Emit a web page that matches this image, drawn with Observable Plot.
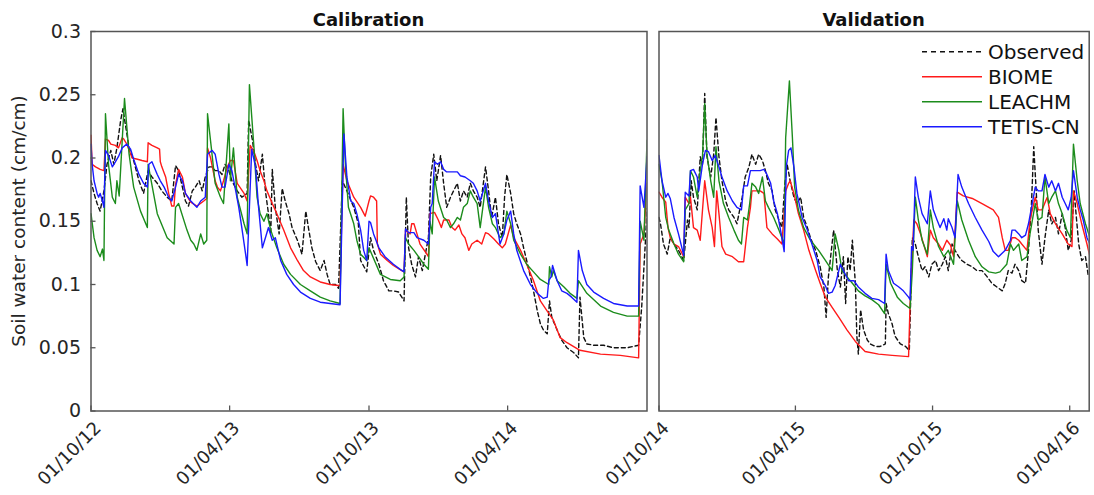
<!DOCTYPE html>
<html><head><meta charset="utf-8">
<script src="https://cdn.jsdelivr.net/npm/d3@7"></script>
<script src="https://cdn.jsdelivr.net/npm/@observablehq/plot@0.6"></script>
<style>
body{margin:0;background:#fff;}
#wrap{position:relative;width:1094px;height:495px;overflow:hidden;background:#fff;}
#wrap svg{position:absolute;top:0;overflow:visible;background:transparent;}
</style></head>
<body><div id="wrap"></div>
<script>
// ---- data: [days since 01/10/2012, soil water content (cm/cm)] ----
const seriesNames = ["Observed", "BIOME", "LEACHM", "TETIS-CN"];
const seriesColors = ["#111111", "#ff1a1a", "#1c8c1c", "#1a1aff"];
const panelTitles = ["Calibration", "Validation"];
const yLabel = "Soil water content (cm/cm)";
const yTicks = [0, 0.05, 0.1, 0.15, 0.2, 0.25, 0.3];
const calTicks = ["2012-10-01", "2013-04-01", "2013-10-01", "2014-04-01"];
const valTicks = ["2014-10-01", "2015-04-01", "2015-10-01", "2016-04-01"];
const calDomain = ["2012-10-01", "2014-10-01"];
const valDomain = ["2014-10-01", "2016-04-27"];

const obsCal = [[0,.182],[4,.172],[8,.164],[12,.158],[17,.174],[21,.195],[26,.206],[30,.195],[34,.208],[39,.230],[42,.239],[45,.227],[50,.208],[56,.198],[63,.182],[69,.172],[75,.190],[80,.185],[87,.180],[93,.174],[100,.169],[106,.166],[111,.194],[115,.190],[120,.177],[124,.166],[128,.162],[133,.174],[137,.177],[142,.182],[146,.174],[150,.185],[155,.193],[159,.193],[163,.190],[168,.190],[172,.187],[176,.195],[181,.190],[185,.182],[192,.174],[198,.169],[205,.172],[207,.230],[212,.214],[216,.195],[220,.182],[225,.203],[229,.174],[233,.156],[236,.140],[238,.191],[242,.161],[247,.140],[251,.176],[255,.166],[260,.156],[264,.145],[271,.135],[277,.124],[282,.158],[286,.143],[290,.129],[295,.118],[301,.111],[306,.119],[310,.108],[314,.100],[321,.100],[325,.097],[330,.182],[336,.174],[345,.161],[351,.148],[354,.119],[362,.110],[367,.137],[371,.127],[378,.116],[384,.103],[391,.095],[397,.095],[404,.094],[411,.087],[414,.169],[417,.129],[421,.116],[426,.106],[430,.122],[435,.111],[439,.124],[443,.137],[446,.185],[450,.203],[454,.182],[459,.202],[463,.180],[467,.161],[472,.169],[476,.174],[481,.180],[485,.166],[489,.174],[494,.169],[498,.180],[502,.174],[507,.169],[511,.161],[518,.193],[522,.174],[526,.153],[531,.169],[535,.148],[540,.137],[543,.169],[546,.187],[551,.172],[555,.156],[559,.148],[564,.140],[568,.129],[572,.119],[577,.106],[581,.095],[586,.079],[590,.069],[594,.064],[599,.061],[602,.087],[605,.074],[612,.064],[618,.056],[625,.050],[634,.046],[640,.042],[642,.090],[647,.058],[651,.053],[660,.052],[673,.052],[686,.050],[704,.050],[719,.052],[723,.082],[728,.135],[730,.160]];
const biomeCal = [[0,.218],[1.5,.195],[6,.193],[12,.191],[17,.190],[19,.215],[23,.214],[26,.211],[32,.210],[36,.208],[41,.216],[43,.215],[47,.211],[54,.200],[61,.199],[67,.198],[74,.197],[75,.212],[80,.210],[87,.208],[90,.207],[91,.197],[93,.193],[98,.185],[102,.172],[106,.162],[109,.162],[111,.179],[115,.191],[120,.185],[124,.172],[131,.165],[139,.162],[148,.166],[152,.168],[153,.208],[157,.200],[163,.182],[166,.177],[170,.174],[174,.182],[179,.193],[183,.198],[187,.198],[192,.180],[201,.172],[205,.166],[209,.210],[214,.205],[218,.198],[222,.190],[227,.182],[231,.174],[238,.164],[244,.156],[253,.143],[262,.129],[271,.119],[279,.111],[288,.106],[301,.102],[314,.100],[327,.099],[331,.195],[336,.182],[345,.169],[354,.161],[360,.154],[365,.166],[367,.170],[371,.169],[375,.166],[376,.132],[380,.124],[389,.119],[397,.115],[408,.111],[411,.110],[413,.143],[419,.140],[421,.148],[424,.148],[428,.140],[432,.132],[441,.124],[443,.122],[445,.156],[451,.157],[456,.151],[460,.145],[463,.151],[470,.151],[474,.145],[478,.143],[483,.147],[487,.140],[491,.137],[496,.127],[500,.132],[507,.135],[513,.132],[518,.141],[522,.140],[529,.136],[535,.132],[540,.129],[544,.132],[551,.147],[555,.137],[564,.127],[572,.116],[581,.103],[590,.087],[599,.079],[607,.072],[616,.058],[625,.054],[642,.048],[669,.045],[695,.044],[719,.042],[721,.132],[726,.140],[730,.180]];
const leachmCal = [[0,.156],[4,.137],[8,.127],[12,.122],[15,.128],[17,.119],[19,.235],[23,.195],[28,.169],[32,.164],[34,.182],[37,.170],[44,.247],[50,.203],[56,.177],[65,.158],[74,.145],[75,.195],[87,.156],[100,.137],[109,.132],[111,.161],[115,.164],[126,.143],[131,.135],[135,.132],[139,.127],[144,.140],[148,.132],[152,.135],[153,.235],[158,.208],[163,.180],[170,.169],[174,.164],[181,.227],[183,.182],[187,.208],[192,.169],[201,.148],[205,.140],[208,.258],[214,.208],[218,.169],[222,.156],[227,.150],[231,.156],[236,.143],[244,.129],[253,.116],[262,.108],[275,.100],[288,.095],[301,.090],[314,.087],[327,.085],[331,.239],[334,.195],[338,.161],[345,.148],[349,.135],[354,.124],[362,.119],[365,.129],[380,.108],[393,.104],[406,.103],[411,.106],[413,.137],[417,.132],[424,.127],[430,.122],[437,.116],[443,.112],[445,.150],[448,.140],[451,.185],[456,.166],[463,.153],[467,.151],[472,.145],[476,.148],[481,.153],[485,.151],[489,.161],[494,.164],[498,.174],[502,.169],[507,.164],[511,.145],[518,.177],[522,.161],[527,.148],[531,.145],[537,.137],[542,.140],[546,.158],[551,.148],[555,.135],[564,.124],[572,.116],[581,.110],[590,.104],[601,.100],[602,.114],[605,.106],[607,.111],[612,.103],[621,.098],[629,.093],[638,.089],[640,.103],[651,.093],[669,.083],[686,.078],[704,.075],[719,.075],[721,.150],[726,.135],[730,.214]];
const tetisCal = [[0,.211],[1.5,.195],[4,.182],[8,.172],[10,.169],[12,.172],[15,.166],[17,.161],[19,.206],[23,.202],[28,.193],[32,.197],[36,.201],[41,.208],[47,.211],[52,.207],[56,.199],[63,.187],[69,.180],[74,.177],[76,.195],[80,.197],[87,.187],[91,.182],[96,.177],[102,.169],[106,.166],[111,.177],[115,.187],[120,.182],[124,.172],[131,.166],[139,.161],[144,.166],[150,.169],[153,.203],[159,.206],[163,.203],[168,.187],[172,.177],[176,.177],[181,.195],[185,.190],[190,.174],[194,.161],[198,.145],[203,.124],[205,.115],[208,.161],[211,.207],[216,.193],[220,.161],[225,.129],[229,.137],[233,.145],[238,.135],[242,.137],[249,.119],[257,.108],[266,.100],[275,.094],[288,.089],[301,.086],[314,.085],[327,.084],[332,.219],[336,.185],[341,.166],[345,.164],[349,.156],[354,.143],[358,.127],[362,.119],[365,.150],[367,.149],[371,.140],[378,.129],[386,.122],[397,.116],[406,.112],[411,.110],[413,.144],[417,.141],[424,.141],[428,.137],[437,.135],[443,.132],[446,.161],[448,.164],[451,.197],[455,.195],[459,.197],[463,.191],[467,.189],[474,.189],[481,.189],[485,.186],[491,.185],[498,.182],[502,.180],[507,.174],[511,.166],[518,.180],[522,.166],[527,.153],[531,.156],[537,.132],[542,.140],[546,.151],[551,.158],[555,.140],[559,.127],[568,.111],[577,.100],[586,.093],[594,.089],[599,.090],[601,.103],[604,.106],[606,.115],[612,.103],[618,.095],[625,.093],[631,.090],[638,.086],[640,.127],[645,.111],[651,.100],[660,.094],[673,.089],[686,.085],[704,.083],[719,.083],[721,.178],[726,.161],[730,.201]];

const obsVal = [[730,.153],[732,.148],[736,.132],[741,.124],[745,.137],[750,.132],[756,.127],[763,.119],[768,.151],[770,.145],[773,.182],[776,.169],[781,.159],[785,.201],[788,.195],[791,.251],[794,.201],[799,.185],[803,.203],[806,.232],[810,.201],[814,.182],[819,.166],[823,.159],[830,.153],[834,.148],[841,.169],[845,.185],[850,.193],[854,.203],[859,.195],[863,.203],[868,.198],[872,.190],[876,.180],[881,.174],[885,.159],[890,.151],[894,.145],[898,.180],[901,.195],[905,.182],[910,.169],[914,.164],[919,.169],[923,.153],[928,.145],[932,.137],[939,.127],[945,.114],[950,.098],[953,.074],[956,.106],[963,.143],[968,.111],[972,.098],[976,.122],[979,.085],[982,.122],[985,.111],[988,.135],[992,.101],[994,.059],[996,.045],[999,.080],[1003,.064],[1008,.056],[1012,.053],[1019,.051],[1025,.051],[1032,.053],[1033,.085],[1036,.077],[1041,.069],[1045,.059],[1052,.053],[1059,.051],[1064,.048],[1068,.137],[1072,.132],[1076,.122],[1081,.111],[1085,.114],[1090,.106],[1094,.116],[1099,.119],[1103,.111],[1108,.116],[1112,.122],[1116,.111],[1121,.132],[1125,.127],[1130,.122],[1134,.119],[1141,.116],[1148,.114],[1154,.111],[1161,.111],[1168,.106],[1174,.101],[1181,.098],[1188,.095],[1192,.101],[1196,.111],[1201,.109],[1205,.116],[1210,.111],[1214,.103],[1219,.101],[1223,.127],[1227,.164],[1230,.209],[1233,.177],[1236,.143],[1241,.116],[1245,.137],[1250,.159],[1254,.148],[1259,.153],[1263,.140],[1268,.156],[1272,.145],[1276,.127],[1280,.135],[1284,.174],[1286,.159],[1290,.132],[1294,.119],[1299,.122],[1303,.106]];
const biomeVal = [[730,.173],[734,.169],[739,.165],[742,.145],[745,.137],[750,.132],[756,.130],[763,.122],[765,.169],[770,.164],[772,.169],[776,.145],[781,.143],[785,.135],[791,.182],[796,.159],[801,.145],[804,.130],[807,.174],[810,.156],[814,.130],[819,.124],[828,.122],[836,.118],[843,.118],[848,.145],[852,.161],[854,.174],[859,.174],[865,.174],[870,.172],[874,.145],[881,.140],[888,.136],[894,.132],[899,.174],[903,.180],[905,.182],[910,.172],[916,.156],[923,.143],[930,.127],[939,.111],[945,.101],[952,.090],[961,.082],[970,.074],[981,.064],[992,.055],[1005,.047],[1023,.045],[1041,.044],[1063,.043],[1065,.085],[1070,.151],[1074,.148],[1079,.140],[1083,.132],[1088,.122],[1092,.143],[1096,.137],[1103,.132],[1108,.127],[1114,.135],[1119,.131],[1123,.122],[1128,.173],[1136,.170],[1148,.168],[1161,.164],[1170,.161],[1176,.159],[1183,.153],[1188,.137],[1192,.127],[1196,.127],[1201,.137],[1205,.137],[1210,.135],[1214,.132],[1221,.127],[1225,.151],[1232,.169],[1236,.159],[1241,.159],[1248,.169],[1252,.156],[1259,.148],[1268,.140],[1276,.132],[1281,.130],[1283,.174],[1288,.164],[1294,.148],[1301,.132],[1305,.122]];
const leachmVal = [[730,.195],[734,.182],[739,.153],[743,.143],[750,.132],[756,.124],[763,.118],[765,.159],[770,.164],[772,.190],[776,.185],[781,.169],[785,.190],[788,.201],[791,.243],[794,.203],[799,.182],[803,.169],[806,.209],[810,.182],[816,.164],[823,.153],[830,.143],[836,.135],[840,.132],[843,.153],[848,.151],[851,.164],[854,.180],[859,.177],[863,.172],[868,.185],[872,.166],[876,.161],[883,.153],[890,.143],[897,.132],[899,.216],[902,.243],[904,.261],[908,.216],[911,.177],[916,.159],[923,.145],[932,.135],[943,.127],[952,.119],[961,.111],[965,.140],[970,.127],[974,.111],[981,.106],[988,.101],[996,.095],[1005,.091],[1014,.088],[1023,.084],[1031,.077],[1033,.116],[1039,.101],[1048,.090],[1056,.085],[1065,.081],[1068,.111],[1072,.169],[1076,.151],[1081,.135],[1088,.124],[1092,.159],[1096,.145],[1103,.130],[1110,.122],[1116,.127],[1123,.116],[1128,.166],[1134,.151],[1143,.135],[1152,.122],[1161,.114],[1170,.110],[1179,.109],[1185,.110],[1194,.116],[1199,.132],[1203,.127],[1210,.132],[1214,.119],[1221,.122],[1225,.140],[1232,.164],[1236,.151],[1241,.153],[1245,.185],[1250,.164],[1254,.169],[1259,.174],[1263,.164],[1268,.156],[1274,.143],[1279,.137],[1283,.211],[1288,.182],[1292,.164],[1299,.148],[1305,.137]];
const tetisVal = [[730,.202],[734,.182],[739,.169],[742,.172],[745,.168],[750,.153],[756,.140],[763,.123],[765,.173],[770,.170],[772,.190],[776,.191],[781,.185],[783,.174],[788,.195],[792,.206],[796,.205],[801,.198],[805,.202],[810,.193],[814,.185],[821,.174],[828,.166],[834,.161],[840,.159],[843,.178],[848,.178],[852,.190],[859,.190],[865,.190],[870,.191],[874,.187],[879,.180],[883,.166],[888,.156],[894,.137],[897,.126],[900,.194],[903,.206],[906,.208],[910,.193],[914,.172],[921,.153],[928,.143],[934,.132],[941,.119],[945,.106],[952,.099],[956,.093],[961,.094],[965,.099],[972,.116],[976,.111],[983,.103],[990,.103],[996,.098],[1005,.093],[1014,.089],[1023,.088],[1031,.085],[1033,.124],[1036,.111],[1043,.101],[1050,.098],[1056,.095],[1063,.090],[1065,.088],[1067,.130],[1069,.127],[1072,.185],[1076,.169],[1081,.156],[1088,.148],[1092,.174],[1096,.159],[1101,.151],[1105,.145],[1110,.152],[1114,.143],[1116,.152],[1121,.145],[1125,.137],[1129,.187],[1134,.177],[1143,.164],[1152,.153],[1161,.143],[1170,.134],[1176,.126],[1183,.122],[1192,.127],[1199,.135],[1201,.143],[1205,.143],[1210,.140],[1214,.137],[1219,.139],[1223,.148],[1228,.164],[1232,.177],[1236,.174],[1241,.174],[1245,.187],[1250,.177],[1254,.182],[1259,.174],[1263,.180],[1268,.169],[1272,.164],[1276,.159],[1280,.169],[1283,.190],[1288,.169],[1292,.159],[1296,.151],[1301,.137],[1305,.132]];

// ---- drawing ----
const FONT = "DejaVu Sans";
const INK = "#262626";
const FRAME = "#555555";
const origin = Date.UTC(2012, 9, 1);
const toDate = d => new Date(origin + d * 864e5);
const rows = arr => arr.map(([d, v]) => ({date: toDate(d), value: v}));
const parse = s => new Date(s + "T00:00:00Z");
const fmtX = d3.utcFormat("%d/%m/%y");
const fmtY = d => String(+d.toFixed(2));

function panel({series, ticks, domain, width, left, mL, mR, showY}) {
  const marks = series.map((arr, i) => Plot.line(rows(arr), {
    x: "date", y: "value", stroke: seriesColors[i], strokeWidth: 1.4,
    strokeDasharray: i === 0 ? "4,3" : null, clip: true
  }));
  marks.push(Plot.frame({stroke: FRAME, strokeWidth: 1.5}));
  if (showY) {
    marks.push(Plot.axisY(yTicks, {tickSize: 5, dx: 5, text: null, stroke: FRAME, strokeWidth: 1.3, label: null}));
    marks.push(Plot.axisY(yTicks, {tickSize: 0, tickPadding: 10, tickFormat: fmtY, fontSize: 19, fill: INK, label: null}));
  }
  const tk = ticks.map(parse);
  marks.push(Plot.axisX(tk, {tickSize: 5, dy: -5, text: null, stroke: FRAME, strokeWidth: 1.3, label: null}));
  marks.push(Plot.axisX(tk, {tickSize: 0, tickPadding: 0, tickRotate: -45, tickFormat: fmtX, fontSize: 18, fill: INK, dx: 7, dy: 14, label: null}));
  const svg = Plot.plot({
    width, height: 495, marginLeft: mL, marginRight: mR, marginTop: 31, marginBottom: 84.5,
    x: {type: "utc", domain: domain.map(parse)},
    y: {domain: [0, 0.3], axis: showY ? undefined : null},
    style: {fontFamily: FONT, background: "transparent", overflow: "visible", color: INK},
    marks
  });
  svg.style.left = left + "px";
  document.getElementById("wrap").appendChild(svg);
}

panel({series: [obsCal, biomeCal, leachmCal, tetisCal], ticks: calTicks, domain: calDomain,
       width: 652, left: 0, mL: 90.5, mR: 5.5, showY: true});
panel({series: [obsVal, biomeVal, leachmVal, tetisVal], ticks: valTicks, domain: valDomain,
       width: 554, left: 540, mL: 118.5, mR: 5.3, showY: false});

// overlay: titles, y label, legend
const ov = d3.select("#wrap").append("svg").attr("width", 1094).attr("height", 495)
  .style("left", "0px").style("pointer-events", "none").style("font-family", FONT);
ov.append("text").attr("x", 368.5).attr("y", 26).attr("text-anchor", "middle")
  .attr("font-weight", "bold").attr("font-size", 18).attr("fill", "#111").text(panelTitles[0]);
ov.append("text").attr("x", 873.6).attr("y", 26).attr("text-anchor", "middle")
  .attr("font-weight", "bold").attr("font-size", 18).attr("fill", "#111").text(panelTitles[1]);
ov.append("text").attr("transform", "translate(25,221) rotate(-90)").attr("text-anchor", "middle")
  .attr("font-size", 18.5).attr("fill", INK).text(yLabel);
const lg = ov.append("g");
seriesNames.forEach((name, i) => {
  const y = 51.7 + i * 25;
  lg.append("line").attr("x1", 922).attr("x2", 982).attr("y1", y).attr("y2", y)
    .attr("stroke", seriesColors[i]).attr("stroke-width", 1.4)
    .attr("stroke-dasharray", i === 0 ? "5,4" : null);
  lg.append("text").attr("x", 988).attr("y", y).attr("dy", "0.36em")
    .attr("font-size", 20).attr("fill", "#111").text(name);
});
</script></body></html>
